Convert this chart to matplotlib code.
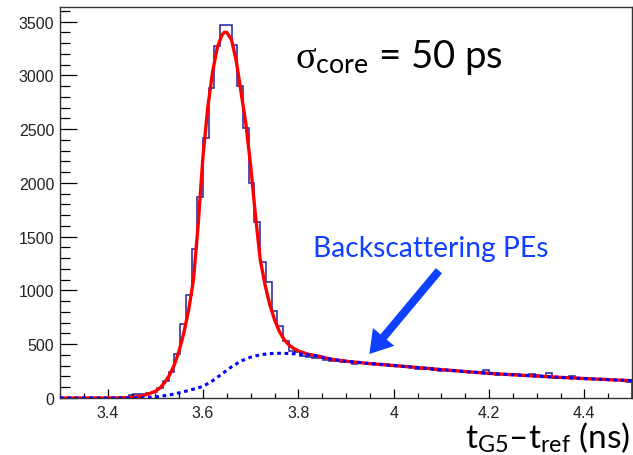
import numpy as np
import matplotlib
matplotlib.use('Agg')
import matplotlib.pyplot as plt
from matplotlib.ticker import MultipleLocator

plt.rcParams['mathtext.fontset'] = 'custom'
plt.rcParams['mathtext.rm'] = 'Lato'
plt.rcParams['mathtext.it'] = 'Liberation Serif'

# histogram: 100 bins of 12 ps from 3.3 to 4.5 ns
bin_lo, bin_hi, n_bins = 3.3, 4.5, 100
counts = [0, 0, 0, 0, 0, 0, 0, 0, 0, 0, 0, 3,
          30, 36, 36, 42, 58, 92, 161, 239, 409, 688, 961, 1386,
          1870, 2416, 2884, 3277, 3470, 3470, 3287, 2900, 2512, 1997, 1634, 1262,
          1076, 812, 673, 533, 440, 431, 394, 377,
          369, 372, 358, 347, 340, 333, 338, 316, 332, 322, 321, 313,
          312, 303, 305, 294, 286, 290, 268, 272, 276, 265, 249, 262,
          258, 251, 252, 238, 245, 240, 258, 232, 216, 226, 224, 220,
          215, 216, 220, 214, 204, 230, 184, 198, 195, 206, 186, 188,
          181, 177, 176, 172, 171, 166, 163, 150]

# total fit (peak part) and common tail
peak_x = [3.30, 3.40, 3.44, 3.45, 3.46, 3.47, 3.48, 3.49, 3.50, 3.51, 3.52, 3.53,
          3.54, 3.55, 3.56, 3.57, 3.58, 3.59, 3.60, 3.61, 3.62, 3.63, 3.64, 3.645,
          3.65, 3.66, 3.67, 3.68, 3.69, 3.70, 3.71, 3.72, 3.73, 3.74, 3.75, 3.76,
          3.77, 3.78, 3.79, 3.80, 3.82]
peak_y = [0, 0, 3, 6, 10, 18, 30, 45, 62, 95, 145, 215,
          310, 440, 610, 820, 1100, 1620, 2250, 2700, 3030, 3260, 3380, 3402,
          3400, 3330, 3130, 2840, 2550, 2160, 1700, 1290, 1055, 870, 730, 620,
          545, 495, 462, 438, 408]
tail_x = [3.84, 3.87, 3.90, 3.95, 4.00, 4.05, 4.10, 4.15, 4.20, 4.25, 4.30, 4.35, 4.40, 4.45, 4.50]
tail_y = [390, 360, 342, 320, 302, 283, 264, 246, 229, 216, 204, 192, 181, 171, 161]

# backscattering component (rise part)
bkg_x = [3.30, 3.44, 3.47, 3.50, 3.53, 3.55, 3.57, 3.59, 3.60, 3.62, 3.64, 3.66,
         3.68, 3.70, 3.72, 3.74, 3.76, 3.78, 3.80, 3.82]
bkg_y = [0, 0, 3, 10, 28, 48, 70, 95, 108, 160, 225, 290,
         345, 380, 402, 413, 416, 414, 410, 402]

xtick_vals = [3.4, 3.6, 3.8, 4.0, 4.2, 4.4]
xtick_labels = ['3.4', '3.6', '3.8', '4', '4.2', '4.4']
ytick_vals = [0, 500, 1000, 1500, 2000, 2500, 3000, 3500]

W, H = 633, 456
fig = plt.figure(figsize=(W / 100, H / 100), dpi=100)
ax = fig.add_axes([60 / W, 57 / H, 572 / W, 391 / H])

edges = np.linspace(bin_lo, bin_hi, n_bins + 1)
ax.stairs(counts, edges, color='#2020a0', lw=1.1)
ax.plot(peak_x + tail_x, peak_y + tail_y, color='#ff0000', lw=2.4, zorder=3)
ax.plot(bkg_x + tail_x, bkg_y + tail_y, color='#0000ff', lw=2.2,
        ls=(0, (1.2, 1.2)), zorder=4)

ax.set_xlim(bin_lo, bin_hi)
ax.set_ylim(0, 3637)
ax.set_xticks(xtick_vals)
ax.set_xticklabels(xtick_labels)
ax.set_yticks(ytick_vals)
ax.xaxis.set_minor_locator(MultipleLocator(0.05))
ax.yaxis.set_minor_locator(MultipleLocator(100))
ax.tick_params(axis='both', which='both', direction='in', width=0.9,
               labelsize=11.5, labelcolor='#222222', top=False, right=False)
ax.tick_params(axis='x', which='major', length=6.8, pad=5)
ax.tick_params(axis='x', which='minor', length=3.6)
ax.tick_params(axis='y', which='major', length=12.2, pad=4)
ax.tick_params(axis='y', which='minor', length=7.2)
for lab in ax.get_xticklabels() + ax.get_yticklabels():
    lab.set_fontfamily('Liberation Sans')
for sp in ax.spines.values():
    sp.set_linewidth(1.0)
    sp.set_color('#333333')

fig.text(295 / W, 1 - 68 / H, r'$\sigma_{\mathrm{core}}$ = 50 ps', fontfamily='Lato',
         fontsize=27.5, va='baseline', ha='left', color='black')
fig.text(313 / W, 1 - 257 / H, 'Backscattering PEs', fontfamily='Lato',
         fontsize=20.3, va='baseline', ha='left', color='#1040ff')
fig.text(465 / W, 1 - 448 / H, r't$_{\mathrm{G5}}$–t$_{\mathrm{ref}}$ (ns)', fontfamily='Lato',
         fontsize=24, va='baseline', ha='left', color='black')

ax.annotate('', xy=(3.949, 409), xytext=(4.095, 1184),
            arrowprops=dict(facecolor='#1040ff', edgecolor='none', width=5.8,
                            headwidth=20, headlength=16, shrink=0))

fig.savefig('out.png', dpi=100)
